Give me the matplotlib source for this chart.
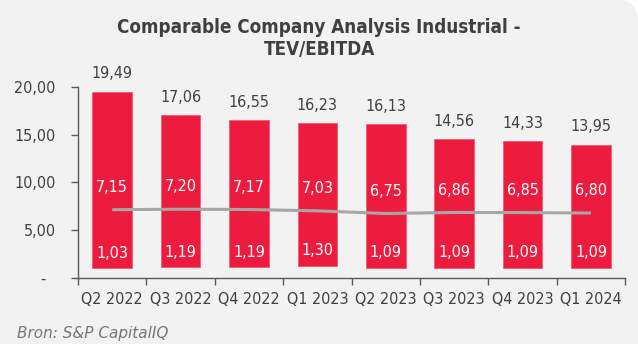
import matplotlib
matplotlib.use("Agg")
import matplotlib.pyplot as plt
from matplotlib.patches import FancyBboxPatch
import numpy as np

plt.rcParams['font.family'] = ['DejaVu Sans']
plt.rcParams['font.stretch'] = 'condensed'

quarters = ['Q2 2022', 'Q3 2022', 'Q4 2022', 'Q1 2023', 'Q2 2023', 'Q3 2023', 'Q4 2023', 'Q1 2024']
high = [19.49, 17.06, 16.55, 16.23, 16.13, 14.56, 14.33, 13.95]
median = [7.15, 7.20, 7.17, 7.03, 6.75, 6.86, 6.85, 6.80]
low = [1.03, 1.19, 1.19, 1.30, 1.09, 1.09, 1.09, 1.09]
yticks = [0, 5, 10, 15, 20]
ytick_labels = ['-  ', '5,00', '10,00', '15,00', '20,00']

RED = '#ED1B3E'
TXT = '#404040'
BG = '#F2F2F2'


def fmt(v):
    return f"{v:.2f}".replace('.', ',')


fig = plt.figure(figsize=(6.38, 3.44), dpi=100, facecolor='white')
# panel background: only the top-right corner is rounded
bg = FancyBboxPatch((-0.2, -0.3), 1.2, 1.3, boxstyle="round,pad=0,rounding_size=0.032",
                    transform=fig.transFigure, facecolor=BG, edgecolor='none',
                    mutation_aspect=638 / 344, zorder=-10)
fig.patches.append(bg)

ax = fig.add_axes([0.1223, 0.192, 0.8577, 0.555])
ax.set_facecolor('none')

x = np.arange(len(quarters))
heights = [h - l for h, l in zip(high, low)]
ax.bar(x, heights, bottom=low, width=0.58, color=RED, edgecolor='#F25A74', linewidth=0.6, zorder=2)
ax.plot(x, median, color='#A6A6A6', linewidth=2.2, zorder=3, solid_capstyle='butt')

for xi, h, m, l in zip(x, high, median, low):
    ax.annotate(fmt(h), (xi, h), xytext=(0, 7.5), textcoords='offset points',
                ha='center', va='bottom', fontsize=11.5, color=TXT, annotation_clip=False)
    ax.annotate(fmt(m), (xi, m), xytext=(0, 16), textcoords='offset points',
                ha='center', va='center', fontsize=11.5, color='white', zorder=4)
    ax.annotate(fmt(l), (xi, l), xytext=(0, 10.5), textcoords='offset points',
                ha='center', va='center', fontsize=11.5, color='white', zorder=4)

ax.set_xlim(-0.5, len(quarters) - 0.5)
ax.set_ylim(0, 20)
ax.set_yticks(yticks)
ax.set_yticklabels(ytick_labels)
ax.set_xticks(x)
ax.set_xticklabels(quarters)
ax.set_xticks(np.arange(-0.5, len(quarters), 1.0), minor=True)
ax.tick_params(axis='x', which='major', length=0, pad=10, labelsize=11.5, labelcolor=TXT)
ax.tick_params(axis='x', which='minor', length=5, width=1, color='#595959', direction='out')
ax.tick_params(axis='y', length=5, width=1, color='#595959', labelsize=11.5, labelcolor=TXT, pad=11)

for s in ['top', 'right']:
    ax.spines[s].set_visible(False)
for s in ['left', 'bottom']:
    ax.spines[s].set_color('#595959')
    ax.spines[s].set_linewidth(1)

fig.text(0.5, 1 - 33 / 344, 'Comparable Company Analysis Industrial -', ha='center', va='baseline',
         fontsize=13.5, fontweight='bold', color=TXT)
fig.text(0.5, 1 - 55 / 344, 'TEV/EBITDA', ha='center', va='baseline',
         fontsize=13.5, fontweight='bold', color=TXT)
fig.text(17 / 638, 1 - 338 / 344, 'Bron: S&P CapitalIQ', ha='left', va='baseline',
         fontsize=11, style='italic', fontstretch='normal', color='#767676')

fig.savefig('out.png', dpi=100, facecolor=fig.get_facecolor())
